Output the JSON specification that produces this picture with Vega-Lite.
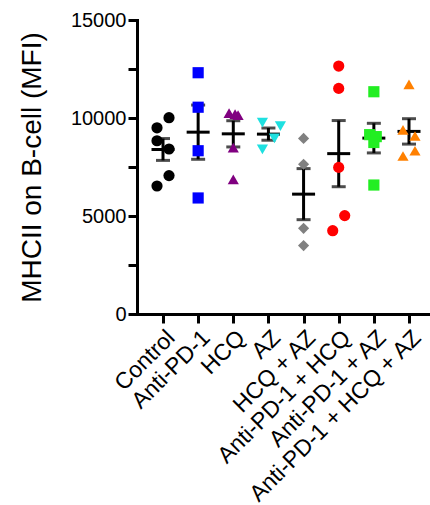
{
  "$schema": "https://vega.github.io/schema/vega-lite/v6.json",
  "width": 298,
  "height": 294,
  "autosize": "none",
  "padding": {"left": 137, "top": 20, "right": 0, "bottom": 191},
  "config": {
    "view": {"stroke": null},
    "font": "Liberation Sans",
    "axis": {
      "domainColor": "black",
      "domainWidth": 3,
      "domainCap": "square",
      "tickColor": "black",
      "tickWidth": 3,
      "tickSize": 9,
      "labelColor": "black",
      "labelFont": "Liberation Sans",
      "labelFontSize": 20,
      "titleFont": "Liberation Sans",
      "titleColor": "black",
      "titleFontWeight": "normal",
      "grid": false
    }
  },
  "data": {
    "values": [
      {"group": "Control", "mfi": 10015, "spread": 1},
      {"group": "Control", "mfi": 9500, "spread": -1},
      {"group": "Control", "mfi": 8840, "spread": -1},
      {"group": "Control", "mfi": 8420, "spread": 1},
      {"group": "Control", "mfi": 7060, "spread": 1},
      {"group": "Control", "mfi": 6530, "spread": -1},
      {"group": "Anti-PD-1", "mfi": 12310, "spread": 0},
      {"group": "Anti-PD-1", "mfi": 10550, "spread": 0},
      {"group": "Anti-PD-1", "mfi": 8330, "spread": 0},
      {"group": "Anti-PD-1", "mfi": 5920, "spread": 0},
      {"group": "HCQ", "mfi": 10250, "spread": -0.7},
      {"group": "HCQ", "mfi": 10200, "spread": 0.3},
      {"group": "HCQ", "mfi": 10150, "spread": 0.8},
      {"group": "HCQ", "mfi": 8490, "spread": 0},
      {"group": "HCQ", "mfi": 6870, "spread": 0},
      {"group": "AZ", "mfi": 9760, "spread": -1},
      {"group": "AZ", "mfi": 9590, "spread": 2},
      {"group": "AZ", "mfi": 8960, "spread": 1},
      {"group": "AZ", "mfi": 8400, "spread": -1},
      {"group": "HCQ + AZ", "mfi": 8960, "spread": 0},
      {"group": "HCQ + AZ", "mfi": 7640, "spread": 0},
      {"group": "HCQ + AZ", "mfi": 4370, "spread": 0},
      {"group": "HCQ + AZ", "mfi": 3490, "spread": 0},
      {"group": "Anti-PD-1 + HCQ", "mfi": 12650, "spread": 0},
      {"group": "Anti-PD-1 + HCQ", "mfi": 11510, "spread": 0},
      {"group": "Anti-PD-1 + HCQ", "mfi": 7480, "spread": 0},
      {"group": "Anti-PD-1 + HCQ", "mfi": 5020, "spread": 1},
      {"group": "Anti-PD-1 + HCQ", "mfi": 4250, "spread": -1},
      {"group": "Anti-PD-1 + AZ", "mfi": 11340, "spread": 0},
      {"group": "Anti-PD-1 + AZ", "mfi": 9150, "spread": -0.7},
      {"group": "Anti-PD-1 + AZ", "mfi": 9050, "spread": 0.4},
      {"group": "Anti-PD-1 + AZ", "mfi": 8750, "spread": 0},
      {"group": "Anti-PD-1 + AZ", "mfi": 6580, "spread": 0},
      {"group": "Anti-PD-1 + HCQ + AZ", "mfi": 11720, "spread": 0},
      {"group": "Anti-PD-1 + HCQ + AZ", "mfi": 9390, "spread": -1},
      {"group": "Anti-PD-1 + HCQ + AZ", "mfi": 9080, "spread": 1},
      {"group": "Anti-PD-1 + HCQ + AZ", "mfi": 8330, "spread": 1},
      {"group": "Anti-PD-1 + HCQ + AZ", "mfi": 8060, "spread": -1}
    ]
  },
  "encoding": {
    "x": {
      "field": "group",
      "type": "nominal",
      "sort": ["Control", "Anti-PD-1", "HCQ", "AZ", "HCQ + AZ", "Anti-PD-1 + HCQ", "Anti-PD-1 + AZ", "Anti-PD-1 + HCQ + AZ"],
      "scale": {"type": "point", "padding": 0.74},
      "axis": {"title": null, "labelAngle": -45, "labelPadding": 3, "labelFontSize": 23, "labelLimit": 0}
    }
  },
  "layer": [
    {
      "mark": {"type": "errorbar", "extent": "stderr", "ticks": true, "thickness": 3, "size": 14, "color": "black"},
      "encoding": {
        "y": {
          "field": "mfi",
          "type": "quantitative",
          "scale": {"domain": [0, 15000], "nice": false},
          "axis": {
            "title": "MHCII on B-cell (MFI)",
            "titleFontSize": 28,
            "titlePadding": 24,
            "values": [0, 2500, 5000, 7500, 10000, 12500, 15000],
            "labelExpr": "datum.value % 5000 === 0 ? '' + datum.value : ''",
            "labelPadding": 2
          }
        }
      }
    },
    {
      "mark": {"type": "tick", "thickness": 3, "size": 23, "color": "black"},
      "encoding": {
        "y": {"aggregate": "mean", "field": "mfi", "type": "quantitative"}
      }
    },
    {
      "mark": {"type": "point", "filled": true, "opacity": 1, "size": 125, "strokeWidth": 0},
      "encoding": {
        "y": {"field": "mfi", "type": "quantitative"},
        "xOffset": {"field": "spread", "type": "quantitative", "scale": {"domain": [-2, 2], "range": [-12, 12]}},
        "shape": {
          "field": "group",
          "type": "nominal",
          "legend": null,
          "scale": {
            "domain": ["Control", "Anti-PD-1", "HCQ", "AZ", "HCQ + AZ", "Anti-PD-1 + HCQ", "Anti-PD-1 + AZ", "Anti-PD-1 + HCQ + AZ"],
            "range": ["circle", "square", "triangle-up", "triangle-down", "diamond", "circle", "square", "triangle-up"]
          }
        },
        "color": {
          "field": "group",
          "type": "nominal",
          "legend": null,
          "scale": {
            "domain": ["Control", "Anti-PD-1", "HCQ", "AZ", "HCQ + AZ", "Anti-PD-1 + HCQ", "Anti-PD-1 + AZ", "Anti-PD-1 + HCQ + AZ"],
            "range": ["#000000", "#0000ff", "#800080", "#1ee0e0", "#808080", "#ff0000", "#22ee22", "#ff8000"]
          }
        }
      }
    }
  ]
}
